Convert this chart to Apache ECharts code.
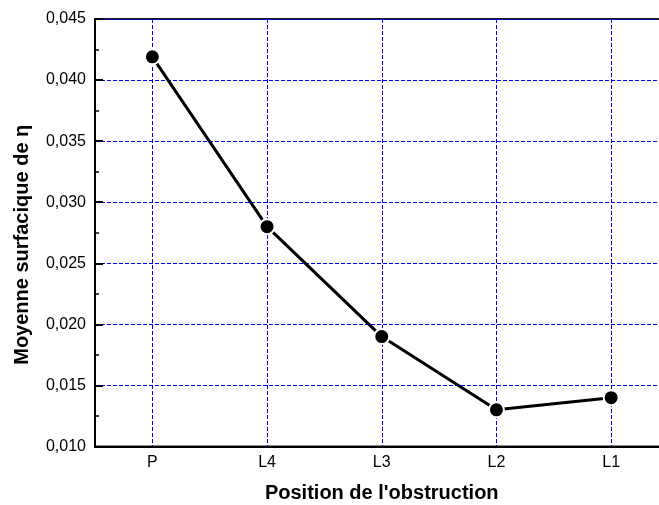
<!DOCTYPE html>
<html>
<head>
<meta charset="utf-8">
<script src="https://cdn.jsdelivr.net/npm/echarts@6/dist/echarts.min.js"></script>
<style>
  html, body { margin: 0; padding: 0; background: #fff; }
  #chart { width: 659px; height: 505px; }
</style>
</head>
<body>
<div id="chart"></div>
<script>
// Positions of the obstruction along the duct
const categories = ['P', 'L4', 'L3', 'L2', 'L1'];
// Surface-averaged eta at each position
const moyenneEta = [0.0419, 0.028, 0.019, 0.013, 0.014];
// Vertical scale
const yMin = 0.010;
const yMax = 0.045;
const yStep = 0.005;

const FONT = '"Liberation Sans", Arial, sans-serif';
const gridBlue = { color: '#0000ff', width: 1, type: [4, 2] };

const chart = echarts.init(document.getElementById('chart'));
chart.setOption({
  animation: false,
  backgroundColor: '#fff',
  grid: {
    left: 95, top: 19, bottom: 58.5, width: 573.5,
    outerBoundsMode: 'none',
    containLabel: false,
    show: true, borderColor: '#1a1a1a', borderWidth: 2,
    backgroundColor: 'transparent'
  },
  xAxis: [
    {
      type: 'category',
      data: categories,
      boundaryGap: true,
      position: 'bottom',
      name: "Position de l'obstruction",
      nameLocation: 'middle',
      nameGap: 37,
      nameTextStyle: { fontFamily: FONT, fontSize: 20, fontWeight: 'bold', color: '#000' },
      axisLine: { lineStyle: { color: '#000', width: 2 } },
      axisTick: { interval: 0, alignWithLabel: true, inside: true, length: 8, lineStyle: { color: '#000', width: 2 } },
      axisLabel: { interval: 0, margin: 8, fontFamily: FONT, fontSize: 16, color: '#000' },
      splitLine: { show: true, interval: 0, alignWithLabel: true, lineStyle: gridBlue }
    },
    {
      // minor ticks between positions
      type: 'category',
      data: categories,
      boundaryGap: true,
      position: 'bottom',
      axisLine: { show: false },
      axisTick: { interval: 0, inside: true, length: 4, lineStyle: { color: '#000', width: 1.5 } },
      axisLabel: { show: false },
      splitLine: { show: false }
    }
  ],
  yAxis: {
    type: 'value',
    min: yMin,
    max: yMax,
    interval: yStep,
    name: 'Moyenne surfacique de η',
    nameLocation: 'middle',
    nameGap: 63,
    nameTextStyle: { fontFamily: FONT, fontSize: 20, fontWeight: 'bold', color: '#000', padding: [0, 24, 0, 0] },
    axisLine: { show: true, lineStyle: { color: '#000', width: 2 } },
    axisTick: { show: true, inside: true, length: 8, lineStyle: { color: '#000', width: 2 } },
    minorTick: { show: true, splitNumber: 2, length: 4, lineStyle: { color: '#000', width: 1.5 } },
    axisLabel: {
      margin: 9, fontFamily: FONT, fontSize: 16, color: '#000',
      formatter: v => v.toFixed(3).replace('.', ',')
    },
    splitLine: { show: true, lineStyle: gridBlue }
  },
  series: [
    {
      type: 'line',
      xAxisIndex: 0,
      data: moyenneEta,
      symbol: 'circle',
      symbolSize: 15,
      itemStyle: { color: '#000', borderColor: '#fff', borderWidth: 2 },
      lineStyle: { color: '#000', width: 3 },
      z: 5
    }
  ]
});
</script>
</body>
</html>
